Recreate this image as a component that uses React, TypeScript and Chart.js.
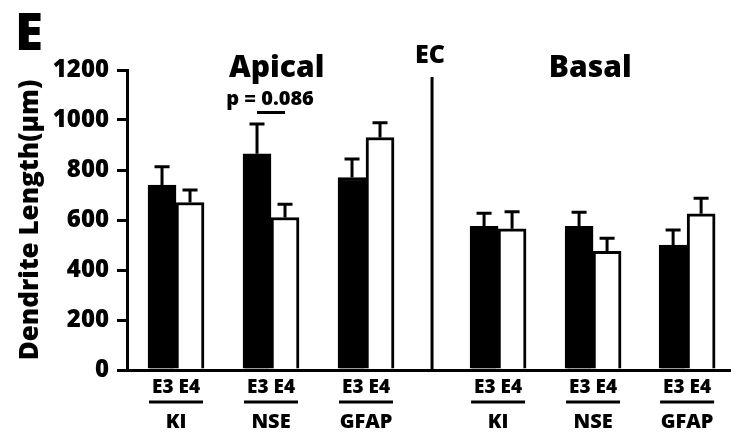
import React, { useEffect, useRef } from 'react';
import { Chart, registerables } from 'chart.js';

Chart.register(...registerables);

// ---- data ----
const groupLabels = ['KI', 'NSE', 'GFAP', 'KI', 'NSE', 'GFAP'];
const groupPositions = [1, 2, 3, 4.39, 5.39, 6.38];
const seriesNames = ['E3', 'E4'];
const e3Values = [740, 865, 770, 575, 575, 500];
const e4Values = [670, 610, 930, 565, 475, 625];
const e3Errors = [73, 119, 74, 52, 56, 60];
const e4Errors = [50, 53, 59, 68, 52, 62];
const yTicks = [0, 200, 400, 600, 800, 1000, 1200];
const regionTitles = ['Apical', 'Basal'];
const regionCenters = [2.06, 5.36];
const dividerLabel = 'EC';
const dividerPosition = 3.695;
const pValueLabel = 'p = 0.086';
const pValueGroup = 1;
const panelLetter = 'E';
const yTitle = 'Dendrite Length(μm)';

const FONT = "'Open Sans', 'DejaVu Sans', sans-serif";
const W = '800';

const overlayPlugin = {
  id: 'overlay',
  afterDatasetsDraw(chart: any) {
    const ctx = chart.ctx;
    const xs = chart.scales.x;
    const ys = chart.scales.y;
    const area = chart.chartArea;
    ctx.save();
    ctx.strokeStyle = '#000';
    ctx.fillStyle = '#000';
    ctx.lineWidth = 3;
    ctx.lineCap = 'butt';

    // error bars (upper only)
    const allVals = [e3Values, e4Values];
    const allErrs = [e3Errors, e4Errors];
    allVals.forEach((vals, di) => {
      const meta = chart.getDatasetMeta(di);
      meta.data.forEach((el: any, i: number) => {
        const top = ys.getPixelForValue(vals[i] + allErrs[di][i]);
        ctx.beginPath();
        ctx.moveTo(el.x, el.y);
        ctx.lineTo(el.x, top);
        ctx.moveTo(el.x - 7.5, top);
        ctx.lineTo(el.x + 7.5, top);
        ctx.stroke();
      });
    });

    // panel letter
    ctx.textAlign = 'left';
    ctx.textBaseline = 'alphabetic';
    ctx.font = `${W} 51px ${FONT}`;
    ctx.fillText(panelLetter, 15, 50);

    // region titles
    ctx.textAlign = 'center';
    ctx.font = `${W} 30px ${FONT}`;
    regionTitles.forEach((t, i) => {
      ctx.fillText(t, xs.getPixelForValue(regionCenters[i]), 77);
    });

    // divider
    const dx = xs.getPixelForValue(dividerPosition);
    ctx.font = `${W} 25px ${FONT}`;
    ctx.fillText(dividerLabel, dx - 2, 63);
    ctx.beginPath();
    ctx.moveTo(dx, 77);
    ctx.lineTo(dx, area.bottom);
    ctx.stroke();

    // p-value
    const m0 = chart.getDatasetMeta(0).data[pValueGroup];
    const m1 = chart.getDatasetMeta(1).data[pValueGroup];
    ctx.font = `${W} 20px ${FONT}`;
    ctx.fillText(pValueLabel, (m0.x + m1.x) / 2 - 1, 105);
    ctx.beginPath();
    ctx.moveTo(m0.x, 112.5);
    ctx.lineTo(m1.x, 112.5);
    ctx.stroke();

    // x labels
    groupLabels.forEach((g, i) => {
      const cx = xs.getPixelForValue(groupPositions[i]);
      ctx.font = `${W} 19px ${FONT}`;
      ctx.fillText(seriesNames.join(' '), cx, 393);
      ctx.beginPath();
      ctx.moveTo(cx - 27, 402);
      ctx.lineTo(cx + 27, 402);
      ctx.stroke();
      ctx.font = `${W} 20px ${FONT}`;
      ctx.fillText(g, cx, 428);
    });
    ctx.restore();
  },
};

export default function App() {
  const ref = useRef<HTMLCanvasElement>(null);
  useEffect(() => {
    if (!ref.current) return;
    const chart = new Chart(ref.current, {
      type: 'bar',
      data: {
        datasets: [
          {
            label: seriesNames[0],
            data: groupPositions.map((p, i) => ({ x: p, y: e3Values[i] })),
            backgroundColor: '#000',
            borderColor: '#000',
            borderWidth: 3,
          },
          {
            label: seriesNames[1],
            data: groupPositions.map((p, i) => ({ x: p, y: e4Values[i] })),
            backgroundColor: '#fff',
            borderColor: '#000',
            borderWidth: 3,
          },
        ],
      },
      options: {
        responsive: false,
        animation: false,
        barThickness: 28,
        layout: { padding: { top: 70, left: 0, right: 0, bottom: 0 } },
        plugins: { legend: { display: false }, tooltip: { enabled: false }, title: { display: false } },
        scales: {
          x: {
            type: 'linear',
            offset: false,
            min: 0.484,
            max: 6.842,
            ticks: { display: false },
            grid: { display: false, drawTicks: false },
            border: { display: true, color: '#000', width: 3 },
            afterFit: (s: any) => { s.height = 63; },
          },
          y: {
            min: 0,
            max: 1200,
            afterBuildTicks: (s: any) => { s.ticks = yTicks.map((v) => ({ value: v })); },
            ticks: {
              color: '#000',
              padding: 8,
              font: { family: FONT, weight: W, size: 24 },
              callback: (v: any) => String(v),
            },
            grid: { drawOnChartArea: false, drawTicks: true, tickLength: 10, color: '#000', lineWidth: 3 },
            border: { display: true, color: '#000', width: 3 },
            title: {
              display: true,
              text: yTitle,
              color: '#000',
              font: { family: FONT, weight: W, size: 26 },
              padding: { top: 15, bottom: 0 },
            },
            afterFit: (s: any) => { s.width = 127; },
          },
        },
      } as any,
      plugins: [overlayPlugin],
    });
    return () => chart.destroy();
  }, []);
  return (
    <div style={{ position: 'absolute', left: 0, top: 0, width: 731, height: 433, background: '#fff' }}>
      <canvas ref={ref} width={731} height={433} style={{ display: 'block' }} />
    </div>
  );
}
